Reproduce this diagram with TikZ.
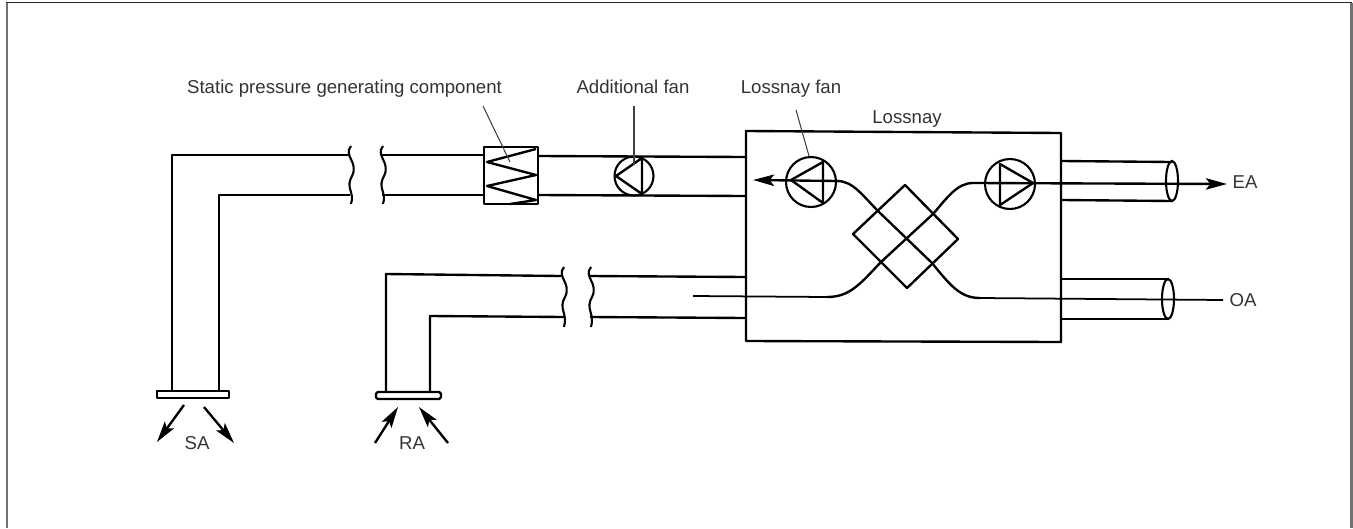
\documentclass[tikz,border=0pt]{standalone}
\usepackage{fontspec}
\setmainfont{Liberation Sans}
\usepackage{xcolor}
\usepackage{tikz}
\usetikzlibrary{arrows.meta,positioning,calc}
\definecolor{labelgray}{HTML}{333333}
\tikzset{
  duct/.style={line width=1.35pt, line join=round},
  thin leader/.style={line width=0.6pt, black!75},
  airflow/.style={line width=1.35pt, -{Stealth[length=12pt,width=6.5pt,inset=2.5pt]}},
  fancase/.style={circle, draw, line width=1.2pt, minimum size=1.0cm, inner sep=0pt},
  lbl/.style={text=labelgray, font=\fontsize{10.6pt}{12pt}\selectfont, inner sep=0pt, anchor=base}
}
\newcommand{\ductbreak}[3]{% x, top y, bottom y
  \draw[line width=1.2pt] (#1+1,#2) .. controls (#1-7,#2+10) and (#1+9,#2+16) .. (#1+2,#2+30)
     .. controls (#1-5,#2+42) and (#1+5,#2+46) .. (#1+1,#3);
}
\begin{document}
\begin{tikzpicture}[x=0.02cm, y=-0.02cm]
  \useasboundingbox (0,0) rectangle (1353,528);
  % Page frame
  \draw[black!55, line width=1.2pt] (7,528) -- (7,2.5);
  \draw[black!55, line width=1.2pt] (1351.5,2.5) -- (1351.5,528);
  \draw[black!85, line width=0.8pt] (6,2.5) -- (1352,2.5);

  % Supply duct
  \draw[duct] (350,155) -- (172,155) -- (172,391);
  \draw[duct] (350,195) -- (219,195) -- (219,391);
  \ductbreak{350}{146}{204}
  \ductbreak{382}{146}{204}
  \draw[duct] (382,155) -- (484,155);
  \draw[duct] (382,195) -- (484,195);
  \draw[duct] (538,156) -- (746,157);
  \draw[duct] (538,195) -- (746,196);

  % Static pressure component
  \draw[duct] (484,147) rectangle (538,204);
  \draw[duct] (536,149) -- (487,162) -- (536,175) -- (487,186) -- (536,200) -- (510,204);

  % Additional fan
  \node[fancase, minimum size=0.78cm] (addfan) at (634,176) {};
  \draw[duct] (616,176) -- (642,158) -- (642,194) -- cycle;

  % Return duct
  \draw[duct] (561,276) -- (386,274) -- (386,392);
  \draw[duct] (565,317) -- (430,316) -- (430,392);
  \ductbreak{563}{267}{327}
  \ductbreak{590}{267}{327}
  \draw[duct] (590,276) -- (746,277);
  \draw[duct] (590,317) -- (746,318);

  % Grilles
  \draw[duct, fill=white] (157,391) rectangle (229,398);
  \draw[duct, fill=white, rounded corners=1pt] (376,392) rectangle (441,399);
  \draw[airflow] (184,405) -- (157,442);
  \draw[airflow] (204,407) -- (234,443);
  \draw[airflow] (375,443) -- (398,407);
  \draw[airflow] (448,443) -- (419,407);

  % Lossnay unit
  \draw[duct] (746,341) -- (746,131) -- (1061,133) -- (1061,342) -- cycle;
  \node[lbl] (lossnay) at (907,123) {Lossnay};

  % Exhaust and outdoor ducts
  \draw[duct] (1061,161) -- (1172,162);
  \draw[duct] (1061,200) -- (1172,201);
  \draw[line width=1.2pt] (1172,181) ellipse (6 and 20);
  \draw[duct] (1061,279) -- (1168,279);
  \draw[duct] (1061,319) -- (1168,319);
  \draw[line width=1.2pt] (1168,299) ellipse (6 and 20);

  % Core
  \draw[duct] (905,185) -- (853,234) -- (907,288) -- (958,239) -- cycle;

  % Lossnay fans
  \node[fancase] (fanleft) at (811,182) {};
  \node[fancase] (fanright) at (1010,184) {};
  \draw[duct] (791,180) -- (823,162) -- (823,203) -- cycle;
  \draw[duct] (1033,183) -- (1000,164) -- (1000,205) -- cycle;

  % Air paths
  \draw[airflow] (837,181) -- (753,180);
  \draw[duct] (837,181) .. controls (853,181) and (862,195) .. (879,212)
     -- (932,263) .. controls (950,285) and (960,298) .. (980,298);
  \draw[line width=1.0pt] (980,298) -- (1223,300);
  \draw[airflow] (973,183) -- (1227,184);
  \draw[duct] (973,183) .. controls (957,183) and (947,198) .. (933,214)
     -- (881,262) .. controls (860,284) and (850,297) .. (827,297);
  \draw[line width=1.0pt] (827,297) -- (693,296);

  % Labels
  \node[lbl] (static) at (344.5,93) {Static pressure generating component};
  \node[lbl] (addlbl) at (633,93) {Additional fan};
  \node[lbl] (fanlbl) at (791,93) {Lossnay fan};
  \node[lbl] (ea) at (1245,188.5) {EA};
  \node[lbl] (oa) at (1243,306) {OA};
  \node[lbl] (sa) at (197,449) {SA};
  \node[lbl] (ra) at (412,449) {RA};
  \coordinate (statictip) at (510,162);
  \coordinate (addtip) at (634,165);
  \coordinate (fantip) at (809,156);
  \draw[thin leader] (483,106) -- (statictip);
  \draw[thin leader] (634,106) -- (addtip);
  \draw[thin leader] (796,110) -- (fantip);
\end{tikzpicture}
\end{document}
